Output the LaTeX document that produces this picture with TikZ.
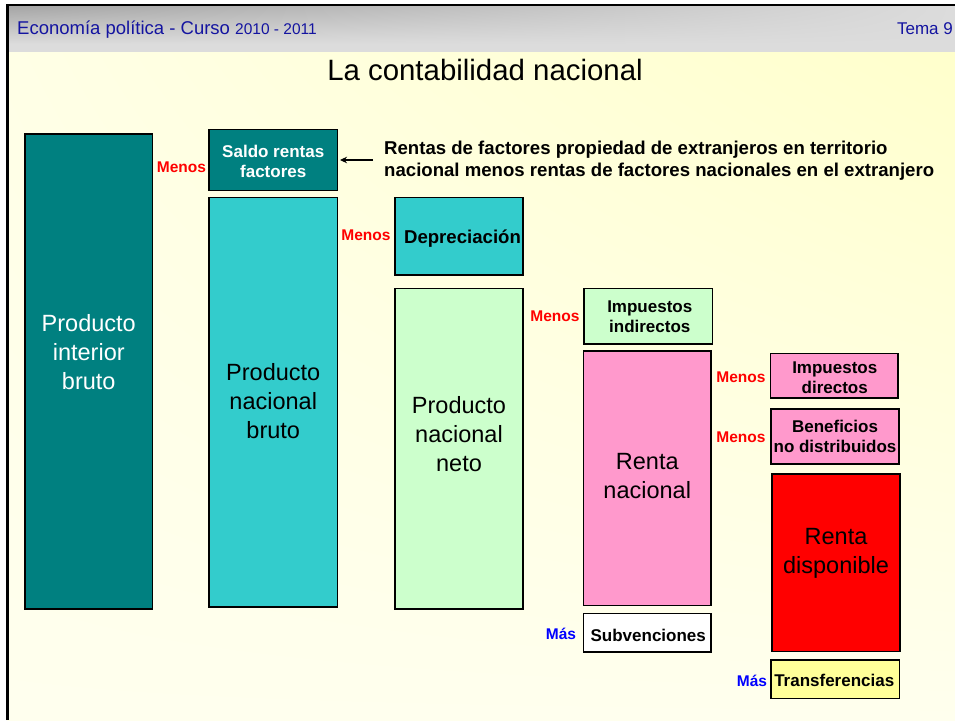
\documentclass[tikz,border=0pt]{standalone}
\usepackage{fontspec}
\setmainfont{Liberation Sans}
\usetikzlibrary{arrows.meta,positioning,fit,shadings}
\definecolor{tealdark}{HTML}{008080}
\definecolor{turq}{HTML}{33CCCC}
\definecolor{lgreen}{HTML}{CCFFCC}
\definecolor{pinkbox}{HTML}{FF99CC}
\definecolor{redbox}{HTML}{FF0000}
\definecolor{yelbox}{HTML}{FFFF99}
\definecolor{hdrblue}{RGB}{20,20,160}
\definecolor{bgA}{HTML}{FFFFE6}
\definecolor{bgB}{HTML}{FFFFCC}
\definecolor{bgC}{HTML}{FFFFEE}
\definecolor{hdrdark}{HTML}{A4A4A4}
\definecolor{hdrlight}{HTML}{DCDCDC}
\begin{document}
\begin{tikzpicture}[x=1pt,y=-1pt,
  blk/.style={draw=black, line width=1.6pt, inner sep=0pt, outer sep=0pt},
  bigtxt/.style={align=center, inner sep=0pt, font=\fontsize{23.5pt}{29pt}\selectfont},
  lbl/.style={align=center, inner sep=0pt, font=\fontsize{17pt}{20pt}\selectfont\bfseries},
  menos/.style={inner sep=0pt, text=red, font=\fontsize{15.5pt}{18pt}\selectfont\bfseries},
  mas/.style={inner sep=0pt, text=blue, font=\fontsize{15.5pt}{18pt}\selectfont\bfseries}
]
\useasboundingbox (0,0) rectangle (955,720);
\fill[white] (0,0) rectangle (955,720);
% background
\shade[upper left=bgA, upper right=bgB, lower left=bgC, lower right=bgC] (7,52) rectangle (955,720);
% header
\fill[hdrlight] (7,5) rectangle (955,52);
\shade[upper left=hdrdark, upper right=hdrlight, lower left=hdrlight, lower right=hdrlight] (7,5) rectangle (955,44);
\draw[line width=2.5pt] (7.5,720) -- (7.5,5) -- (955,5);
\node[anchor=base west, inner sep=0pt, text=hdrblue, font=\fontsize{18.5pt}{20pt}\selectfont] (hdr) at (17,34)
  {Economía política - Curso {\fontsize{15.5pt}{17pt}\selectfont 2010 - 2011}};
\node[anchor=base east, inner sep=0pt, text=hdrblue, font=\fontsize{17pt}{20pt}\selectfont] (tema) at (953,34) {Tema 9};
\node[anchor=base, inner sep=0pt, font=\fontsize{29.4pt}{32pt}\selectfont] (title) at (485,80) {La contabilidad nacional};

% boxes
\node[blk, fill=tealdark, fit={(25,134) (152.5,609)}] (pib) {};
\node[blk, fill=tealdark, fit={(209,129.5) (337.5,190.5)}] (saldo) {};
\node[blk, fill=turq, fit={(209,197.5) (337.5,607)}] (pnb) {};
\node[blk, fill=turq, fit={(395,197.5) (523,275)}] (dep) {};
\node[blk, fill=lgreen, fit={(395,288.5) (523,609)}] (pnn) {};
\node[blk, fill=lgreen, fit={(584,288.5) (712.5,344)}] (ii) {};
\node[blk, fill=pinkbox, fit={(583.5,351) (711,605.5)}] (rn) {};
\node[blk, fill=white, fit={(583.5,613.5) (711,652)}] (sub) {};
\node[blk, fill=pinkbox, fit={(770.5,353.5) (898,398)}] (id) {};
\node[blk, fill=pinkbox, fit={(771,409) (899,464)}] (ben) {};
\node[blk, fill=redbox, fit={(772,474) (900,651.5)}] (rd) {};
\node[blk, fill=yelbox, fit={(771,660) (899.5,698.5)}] (tr) {};

% box texts
\node[bigtxt, text=white] (pibt) at ([yshift=19.5pt]pib.center) {Producto\\interior\\bruto};
\node[bigtxt] (pnbt) at ([yshift=1pt]pnb.center) {Producto\\nacional\\bruto};
\node[bigtxt] (pnnt) at ([yshift=14.5pt]pnn.center) {Producto\\nacional\\neto};
\node[bigtxt] (rnt) at ([yshift=2pt]rn.center) {Renta\\nacional};
\node[bigtxt] (rdt) at ([yshift=9pt]rd.center) {Renta\\disponible};
\node[lbl, text=white] (saldot) at ([yshift=-1.5pt]saldo.center) {Saldo rentas\\factores};
\node[lbl, font=\fontsize{18.6pt}{21pt}\selectfont\bfseries] (dept) at ([xshift=3.5pt,yshift=-2.5pt]dep.center) {Depreciación};
\node[lbl] (iit) at ([xshift=1.5pt]ii.center) {Impuestos\\indirectos};
\node[lbl] (idt) at ([xshift=0.5pt,yshift=-2pt]id.center) {Impuestos\\directos};
\node[lbl] (bent) at (ben.center) {Beneficios\\no distribuidos};
\node[lbl] (subt) at ([xshift=1pt,yshift=-2.5pt]sub.center) {Subvenciones};
\node[lbl] (trt) at ([xshift=-1pt,yshift=-1.5pt]tr.center) {Transferencias};

% Menos / Mas
\node[menos] (m1) at (181.5,167) {Menos};
\node[menos] (m2) at (366,235) {Menos};
\node[menos] (m3) at (555,316.5) {Menos};
\node[menos] (m4) at (741,377) {Menos};
\node[menos] (m5) at (741,437.5) {Menos};
\node[mas] (p1) at (561,633.5) {Más};
\node[mas] (p2) at (752,680.5) {Más};

% annotation
\node[anchor=west, align=left, inner sep=0pt, font=\fontsize{18.6pt}{21.7pt}\selectfont\bfseries] (rentas) at (384,161)
  {Rentas de factores propiedad de extranjeros en territorio\\nacional menos rentas de factores nacionales en el extranjero};
\coordinate (arrs) at (373,160);
\draw[line width=1.5pt, -{Stealth[length=7pt,width=6.5pt]}] (arrs) -- ([xshift=2.5pt]saldo.east);
\end{tikzpicture}
\end{document}
